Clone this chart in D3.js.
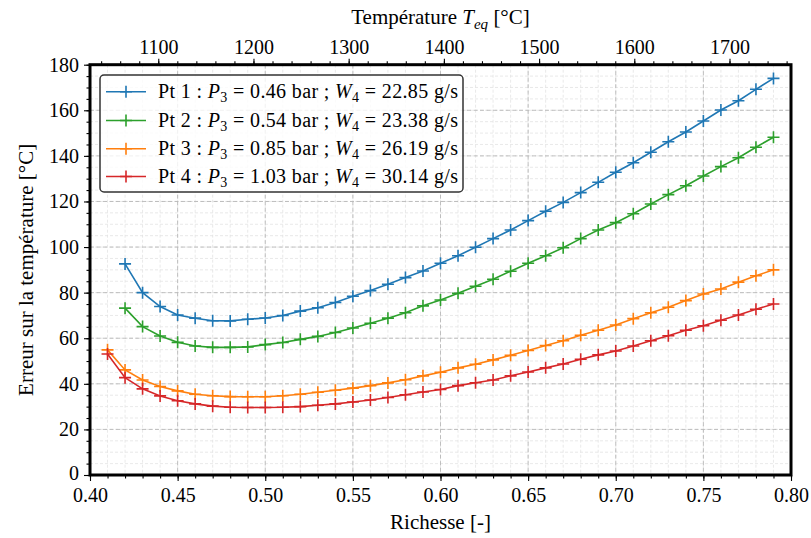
<!DOCTYPE html>
<html><head><meta charset="utf-8">
<script src="https://cdn.jsdelivr.net/npm/d3@7"></script>
<style>
html,body{margin:0;padding:0;background:#fff;}
text{font-family:"Liberation Serif","DejaVu Serif",serif;fill:#000;}
</style></head>
<body><svg id="c" width="811" height="538"></svg>
<script>
// ---------- DATA ----------
const richesse12 = [0.42,0.43,0.44,0.45,0.46,0.47,0.48,0.49,0.50,0.51,0.52,0.53,0.54,0.55,0.56,0.57,0.58,0.59,0.60,0.61,0.62,0.63,0.64,0.65,0.66,0.67,0.68,0.69,0.70,0.71,0.72,0.73,0.74,0.75,0.76,0.77,0.78,0.79];
const richesse34 = [0.41].concat(richesse12);
const pt1 = [92.6,80.0,73.9,70.2,68.8,67.7,67.6,68.3,68.9,70.0,71.9,73.4,75.7,78.4,80.9,83.7,86.6,89.5,92.9,96.2,99.9,103.7,107.5,111.6,115.7,119.6,123.9,128.4,132.8,137.0,141.6,146.2,150.5,155.3,160.1,164.2,169.2,174.0];
const pt2 = [73.2,65.1,61.0,58.2,56.6,56.0,56.0,56.2,57.2,58.1,59.5,60.8,62.5,64.5,66.6,68.8,71.2,74.2,76.8,79.7,82.8,85.9,89.4,92.9,96.2,99.7,103.7,107.5,110.7,114.6,118.9,123.0,126.9,131.2,135.3,139.2,143.8,148.2];
const pt3 = [54.9,46.1,41.7,38.8,36.9,35.4,34.8,34.4,34.3,34.3,34.8,35.4,36.3,37.2,38.1,39.2,40.4,41.8,43.5,45.1,47.0,48.6,50.5,52.5,54.6,56.8,58.9,61.3,63.5,65.8,68.6,71.2,73.6,76.5,79.4,81.6,84.6,87.4,90.0];
const pt4 = [53.1,42.7,37.8,34.7,32.6,31.2,30.2,29.7,29.6,29.6,29.7,30.0,30.6,31.2,32.0,32.9,34.0,35.2,36.4,37.5,39.2,40.5,41.7,43.5,45.2,47.0,48.7,50.8,52.7,54.4,56.6,58.9,61.1,63.5,65.5,67.9,70.2,72.7,75.0];
const seriesNames = ["Pt 1","Pt 2","Pt 3","Pt 4"];
const pressures = ["0.46","0.54","0.85","1.03"];
const debits = ["22.85","23.38","26.19","30.14"];
const colors = ["#1f77b4","#2ca02c","#ff7f0e","#d62728"];
const xTicks = [0.40,0.45,0.50,0.55,0.60,0.65,0.70,0.75,0.80];
const yTicks = [0,20,40,60,80,100,120,140,160,180];
const tTicks = [1100,1200,1300,1400,1500,1600,1700];
const xDomain = [0.40,0.80];
const yDomain = [0,180];
const tDomain = [1028.3,1764.6];

// ---------- LAYOUT ----------
const L=90, R=791, T=64.7, B=475;
const svg = d3.select("#c");
const x = d3.scaleLinear().domain(xDomain).range([L,R]);
const y = d3.scaleLinear().domain(yDomain).range([B,T]);
const xt = d3.scaleLinear().domain(tDomain).range([L,R]);

const xMinor = d3.range(0.40,0.8001,0.01).map(v=>+v.toFixed(2));
const yMinor = d3.range(0,181,5);
const tMinor = d3.range(1040,1761,20);

// grid minor
const g = svg.append("g");
g.selectAll(".vx").data(xMinor).join("line")
 .attr("x1",d=>x(d)).attr("x2",d=>x(d)).attr("y1",T).attr("y2",B)
 .attr("stroke","#e3e3e3").attr("stroke-width",0.8).attr("stroke-dasharray","3,2");
g.selectAll(".hy").data(yMinor).join("line")
 .attr("y1",d=>y(d)).attr("y2",d=>y(d)).attr("x1",L).attr("x2",R)
 .attr("stroke","#e3e3e3").attr("stroke-width",0.8).attr("stroke-dasharray","3,2");
// grid major
g.selectAll(".vX").data(xTicks).join("line")
 .attr("x1",d=>x(d)).attr("x2",d=>x(d)).attr("y1",T).attr("y2",B)
 .attr("stroke","#b8b8b8").attr("stroke-width",0.9).attr("stroke-dasharray","4,2.5");
g.selectAll(".hY").data(yTicks).join("line")
 .attr("y1",d=>y(d)).attr("y2",d=>y(d)).attr("x1",L).attr("x2",R)
 .attr("stroke","#b8b8b8").attr("stroke-width",0.9).attr("stroke-dasharray","4,2.5");

// series
const allSeries = [
  {xs:richesse12, ys:pt1},
  {xs:richesse12, ys:pt2},
  {xs:richesse34, ys:pt3},
  {xs:richesse34, ys:pt4}
];
const line = d3.line().x(d=>x(d[0])).y(d=>y(d[1]));
const plus = "M-6,0H6M0,-6V6";
allSeries.forEach((s,i)=>{
  const pts = s.xs.map((v,k)=>[v,s.ys[k]]);
  svg.append("path").datum(pts).attr("d",line).attr("fill","none")
    .attr("stroke",colors[i]).attr("stroke-width",1.6);
  svg.append("g").selectAll("path").data(pts).join("path")
    .attr("transform",d=>`translate(${x(d[0])},${y(d[1])})`)
    .attr("d",plus).attr("stroke",colors[i]).attr("stroke-width",1.6).attr("fill","none");
});

// axes
const fs = 20;
const axB = svg.append("g").attr("transform",`translate(0,${B})`)
  .call(d3.axisBottom(x).tickValues(xTicks).tickFormat(d3.format(".2f")).tickSize(6).tickPadding(7));
const axBm = svg.append("g").attr("transform",`translate(0,${B})`)
  .call(d3.axisBottom(x).tickValues(xMinor).tickFormat("").tickSize(3.5));
const axL = svg.append("g").attr("transform",`translate(${L},0)`)
  .call(d3.axisLeft(y).tickValues(yTicks).tickFormat(d3.format("d")).tickSize(6).tickPadding(5));
const axLm = svg.append("g").attr("transform",`translate(${L},0)`)
  .call(d3.axisLeft(y).tickValues(yMinor).tickFormat("").tickSize(3.5));
const axT = svg.append("g").attr("transform",`translate(0,${T})`)
  .call(d3.axisTop(xt).tickValues(tTicks).tickFormat(d3.format("d")).tickSize(6).tickPadding(5));
const axTm = svg.append("g").attr("transform",`translate(0,${T})`)
  .call(d3.axisTop(xt).tickValues(tMinor).tickFormat("").tickSize(3.5));
[axB,axBm,axL,axLm,axT,axTm].forEach(a=>{
  a.select(".domain").remove();
  a.selectAll(".tick line").attr("stroke","#000").attr("stroke-width",1.1);
  a.selectAll("text").attr("font-size",fs).attr("font-family","Liberation Serif").attr("fill","#000");
});
// keep the "0" label of the y axis clear of the "0.40" label
axL.selectAll(".tick text").filter(d=>d===0).attr("dy","0.2em");

// spines
svg.append("rect").attr("x",L).attr("y",T).attr("width",R-L).attr("height",B-T)
  .attr("fill","none").attr("stroke","#000").attr("stroke-width",3);

// titles
svg.append("text").attr("x",(L+R)/2).attr("y",529).attr("text-anchor","middle")
  .attr("font-size",21).text("Richesse [-]");
svg.append("text").attr("transform",`translate(33,${(T+B)/2}) rotate(-90)`)
  .attr("text-anchor","middle").attr("font-size",21).text("Erreur sur la température [°C]");
const tt = svg.append("text").attr("x",(L+R)/2).attr("y",24).attr("text-anchor","middle").attr("font-size",21);
tt.append("tspan").text("Température ");
tt.append("tspan").attr("font-style","italic").text("T");
tt.append("tspan").attr("font-style","italic").attr("font-size",15).attr("dy",5).text("eq");
tt.append("tspan").attr("dy",-5).text(" [°C]");

// legend
const lg = svg.append("g");
lg.append("rect").attr("x",100).attr("y",75).attr("width",363).attr("height",117)
  .attr("rx",4).attr("fill","#fff").attr("fill-opacity",0.8)
  .attr("stroke","#333").attr("stroke-width",1.5);
const rowY = [91.7,120.5,148.8,176.5];
seriesNames.forEach((n,i)=>{
  const ry = rowY[i];
  lg.append("line").attr("x1",106).attr("x2",146).attr("y1",ry).attr("y2",ry)
    .attr("stroke",colors[i]).attr("stroke-width",1.6);
  lg.append("path").attr("transform",`translate(126,${ry})`).attr("d",plus)
    .attr("stroke",colors[i]).attr("stroke-width",1.6);
  const t = lg.append("text").attr("x",158).attr("y",ry+6.5).attr("font-size",20)
    .attr("textLength",300).attr("lengthAdjust","spacing");
  t.append("tspan").text(n+" : ");
  t.append("tspan").attr("font-style","italic").text("P");
  t.append("tspan").attr("font-size",14).attr("dy",4).text("3");
  t.append("tspan").attr("dy",-4).text(" = "+pressures[i]+" bar ; ");
  t.append("tspan").attr("font-style","italic").text("W");
  t.append("tspan").attr("font-size",14).attr("dy",4).text("4");
  t.append("tspan").attr("dy",-4).text(" = "+debits[i]+" g/s");
});
</script></body></html>
